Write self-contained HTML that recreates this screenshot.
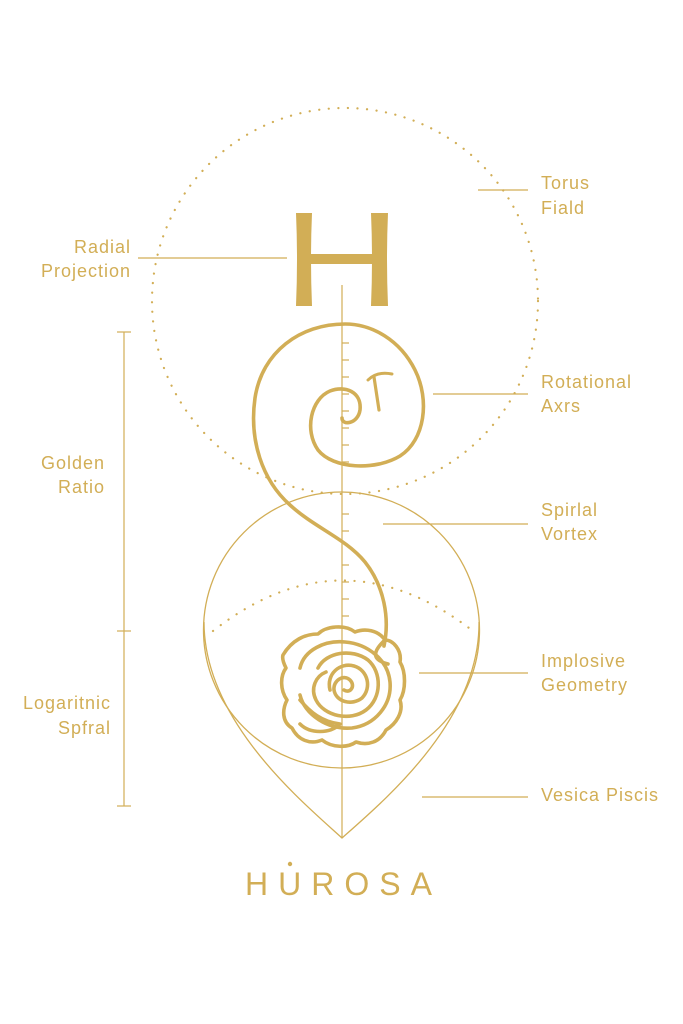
<!DOCTYPE html>
<html><head><meta charset="utf-8"><style>
html,body{margin:0;padding:0;background:#fff;}
svg{display:block;}
text{font-family:"Liberation Sans",sans-serif;fill:#D2AE56;font-size:18px;letter-spacing:1px;}
</style></head><body>
<svg width="683" height="1024" viewBox="0 0 683 1024" xmlns="http://www.w3.org/2000/svg">
<g fill="none" stroke="#D2AE56">
  <circle cx="345" cy="301" r="193" stroke-width="2.2" stroke-dasharray="0.1 9.5" stroke-linecap="round"/>
  <path d="M213,631 Q342,530 473,631" stroke-width="2.2" stroke-dasharray="0.1 9.5" stroke-linecap="round"/>
  <line x1="342" y1="285" x2="342" y2="838" stroke-width="1.2"/>
  <g stroke-width="1.2">
    <line x1="342" y1="343" x2="349" y2="343"/><line x1="342" y1="360" x2="349" y2="360"/>
    <line x1="342" y1="377" x2="349" y2="377"/><line x1="342" y1="394" x2="349" y2="394"/>
    <line x1="342" y1="411" x2="349" y2="411"/><line x1="342" y1="428" x2="349" y2="428"/>
    <line x1="342" y1="445" x2="349" y2="445"/><line x1="342" y1="462" x2="349" y2="462"/>
    <line x1="342" y1="514" x2="349" y2="514"/><line x1="342" y1="531" x2="349" y2="531"/>
    <line x1="342" y1="565" x2="349" y2="565"/><line x1="342" y1="582" x2="349" y2="582"/>
    <line x1="342" y1="599" x2="349" y2="599"/><line x1="342" y1="616" x2="349" y2="616"/>
  </g>
  <circle cx="341.5" cy="630" r="138" stroke-width="1.3"/>
  <path d="M204,622 C204,720 300,800 342,838 C385,800 480,720 479,622" stroke-width="1.3"/>
  <path d="M342,418 C342,426 358,424 360,410 C362,392 345,385 330,391 C311,399 304,430 318,450 C333,469 375,471 400,456 C425,440 430,400 415,370 C400,340 372,324 345,324 C300,324 262,352 255,398 C249,440 262,480 290,505 C315,528 345,538 365,562 C384,586 390,618 384,646" stroke-width="3.6" stroke-linecap="round"/>
  <path d="M368,380 Q377,371 392,374" stroke-width="3" stroke-linecap="round"/>
  <path d="M374,377 L379,410" stroke-width="3.2" stroke-linecap="round"/>
  <g stroke-width="3.6" stroke-linejoin="round" stroke-linecap="round">
    <path d="M283,655 C292,640 305,634 318,634 C326,626 345,624 355,632 C365,628 378,630 385,640 C393,640 402,650 400,662 C406,672 406,690 400,700 C404,712 396,724 386,730 C380,742 368,746 356,742 C348,748 332,748 322,740 C310,745 298,740 292,728 C282,722 282,710 287,700 C280,690 280,676 286,668 C283,662 282,658 283,655 Z"/>
    <path d="M300,668 C304,650 325,640 345,642 C368,644 388,660 390,682 C392,705 375,725 352,728 C328,730 305,715 300,695"/>
    <path d="M318,668 C326,652 352,648 368,660 C382,672 382,698 366,710 C350,722 324,716 316,700 C310,688 316,676 326,672"/>
    <path d="M330,690 C326,674 340,662 354,666 C368,670 372,688 362,698 C352,706 336,702 334,690 C333,680 344,674 350,680 C356,686 350,694 344,690"/>
    <path d="M300,700 C310,712 322,722 340,724 C330,734 310,734 300,724"/>
    <path d="M385,640 C372,652 372,660 388,664"/>
  </g>
  <g stroke-width="1.2">
    <line x1="124" y1="332" x2="124" y2="806"/>
    <line x1="117" y1="332" x2="131" y2="332"/>
    <line x1="117" y1="631" x2="131" y2="631"/>
    <line x1="117" y1="806" x2="131" y2="806"/>
    <line x1="138" y1="258" x2="287" y2="258"/>
    <line x1="478" y1="190" x2="528" y2="190"/>
    <line x1="433" y1="394" x2="528" y2="394"/>
    <line x1="383" y1="524" x2="528" y2="524"/>
    <line x1="419" y1="673" x2="528" y2="673"/>
    <line x1="422" y1="797" x2="528" y2="797"/>
  </g>
</g>
<g fill="#D2AE56">
  <path d="M296,213 H312 Q310,259 312,306 H296 Q298,259 296,213 Z"/>
  <path d="M371,213 H388 Q386,259 388,306 H371 Q373,259 371,213 Z"/>
  <rect x="310" y="254" width="63" height="10"/>
  <circle cx="290" cy="864" r="2.2"/>
</g>
<g text-anchor="end">
  <text x="131" y="253">Radial</text><text x="131" y="277">Projection</text>
  <text x="105" y="469">Golden</text><text x="105" y="493">Ratio</text>
  <text x="111" y="709">Logaritnic</text><text x="111" y="734">Spfral</text>
</g>
<g>
  <text x="541" y="189">Torus</text><text x="541" y="214">Fiald</text>
  <text x="541" y="388">Rotational</text><text x="541" y="412">Axrs</text>
  <text x="541" y="516">Spirlal</text><text x="541" y="540">Vortex</text>
  <text x="541" y="667">Implosive</text><text x="541" y="691">Geometry</text>
  <text x="541" y="801">Vesica Piscis</text>
</g>
<text x="245" y="895" style="font-size:32px;letter-spacing:10px;">HUROSA</text>
</svg>
</body></html>
